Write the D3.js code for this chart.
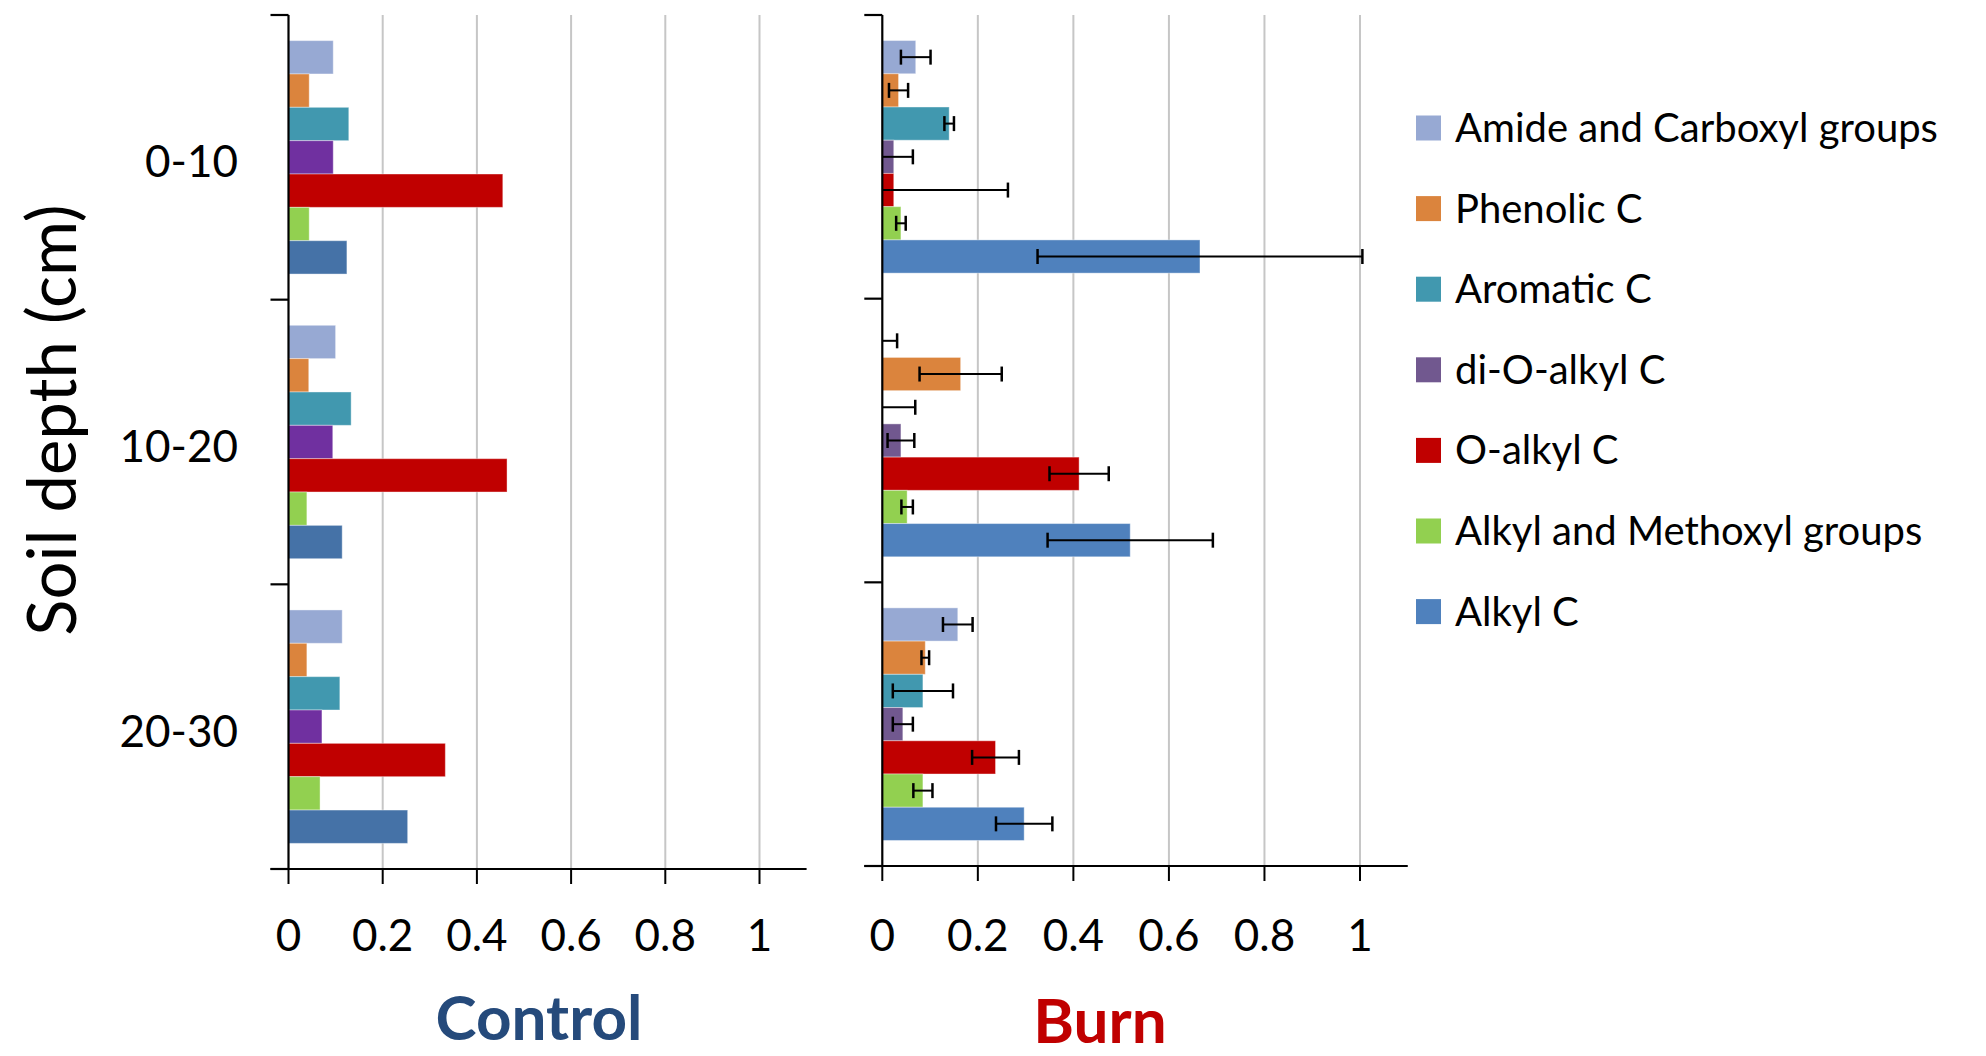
<!DOCTYPE html>
<html>
<head>
<meta charset="utf-8">
<script src="https://cdnjs.cloudflare.com/ajax/libs/d3/7.8.5/d3.min.js"></script>
<style>
  body { margin: 0; background: #fff; }
  svg text { font-family: Lato, "Open Sans", sans-serif; }
</style>
</head>
<body>
<div id="chart"></div>
<script>
var width = 1986, height = 1056;

// soil depth classes (top to bottom)
var depths = ["0-10", "10-20", "20-30"];

// carbon groups, drawn top to bottom inside each depth
var groups = ["Amide and Carboxyl groups", "Phenolic C", "Aromatic C", "di-O-alkyl C",
              "O-alkyl C", "Alkyl and Methoxyl groups", "Alkyl C"];

// control values, one row per depth, one entry per group
var controlValues = [
  [0.095, 0.044, 0.128, 0.095, 0.455, 0.044, 0.124],
  [0.100, 0.043, 0.133, 0.094, 0.464, 0.039, 0.114],
  [0.114, 0.039, 0.109, 0.071, 0.333, 0.067, 0.253]
];

// burn values and their error bars
var burnValues = [
  [0.070, 0.034, 0.140, 0.024, 0.024, 0.039, 0.665],
  [0.000, 0.164, 0.000, 0.039, 0.412, 0.052, 0.519],
  [0.158, 0.090, 0.085, 0.043, 0.237, 0.085, 0.297]
];
var burnErrors = [
  [0.031, 0.020, 0.010, 0.040, 0.239, 0.010, 0.340],
  [0.031, 0.086, 0.069, 0.028, 0.062, 0.012, 0.173],
  [0.031, 0.008, 0.063, 0.021, 0.049, 0.020, 0.059]
];

var xTicks = [0, 0.2, 0.4, 0.6, 0.8, 1];

// colours (control panel uses slightly different purple / blue)
var controlColors = ["#97a9d3", "#db843d", "#4198af", "#7030a0", "#c00000", "#92d050", "#4572a7"];
var burnColors    = ["#97a9d3", "#db843d", "#4198af", "#71588f", "#c00000", "#92d050", "#4f81bd"];

var svg = d3.select("#chart").append("svg")
    .attr("width", width)
    .attr("height", height);

//draw one panel
function panel(opt) {
  var x = d3.scaleLinear().domain([0, 1.1]).range([opt.left, opt.right]);
  var y = d3.scaleBand().domain(depths).range([opt.top, opt.bottom])
      .paddingInner(0.18).paddingOuter(0.09);
  var yBand = d3.scaleBand().domain(depths).range([opt.top, opt.bottom]);
  var sub = d3.scaleBand().domain(groups).range([0, y.bandwidth()]);

  var g = svg.append("g");

  //vertical grid lines
  g.selectAll(".grid").data(xTicks.slice(1)).enter().append("line")
    .attr("x1", d => x(d)).attr("x2", d => x(d))
    .attr("y1", opt.top).attr("y2", opt.bottom)
    .attr("stroke", "#c6c6c6").attr("stroke-width", 2);

  //bars
  depths.forEach(function(dep, i) {
    var rows = groups.map(function(gr, j) {
      return {grp: gr, j: j, v: opt.values[i][j], e: opt.errors ? opt.errors[i][j] : null};
    });
    var gg = g.append("g").attr("transform", "translate(0," + y(dep) + ")");
    gg.selectAll("rect").data(rows).enter().append("rect")
      .attr("x", x(0))
      .attr("y", d => sub(d.grp))
      .attr("width", d => x(d.v) - x(0))
      .attr("height", sub.bandwidth())
      .attr("fill", d => opt.colors[d.j])
      .attr("stroke", "rgba(255,255,255,0.4)")
      .attr("stroke-width", 1);

    if (opt.errors) {
      var cap = 7.5;
      rows.forEach(function(d) {
        var cy = sub(d.grp) + sub.bandwidth() / 2;
        var lo = Math.max(0, d.v - d.e), hi = d.v + d.e;
        gg.append("line").attr("x1", x(lo)).attr("x2", x(hi))
          .attr("y1", cy).attr("y2", cy)
          .attr("stroke", "#000").attr("stroke-width", 2);
        gg.append("line").attr("x1", x(hi)).attr("x2", x(hi))
          .attr("y1", cy - cap).attr("y2", cy + cap)
          .attr("stroke", "#000").attr("stroke-width", 2.5);
        if (d.v - d.e > 0) {
          gg.append("line").attr("x1", x(lo)).attr("x2", x(lo))
            .attr("y1", cy - cap).attr("y2", cy + cap)
            .attr("stroke", "#000").attr("stroke-width", 2.5);
        }
      });
    }
  });

  //y axis with outward ticks at the band edges
  var edges = depths.map(d => yBand(d)).concat([opt.bottom]);
  g.append("line").attr("x1", x(0)).attr("x2", x(0))
    .attr("y1", opt.top).attr("y2", opt.bottom)
    .attr("stroke", "#000").attr("stroke-width", 2.2);
  g.selectAll(".ytick").data(edges).enter().append("line")
    .attr("x1", x(0) - 18).attr("x2", x(0))
    .attr("y1", d => d).attr("y2", d => d)
    .attr("stroke", "#000").attr("stroke-width", 2.2);

  //x axis
  g.append("line").attr("x1", x(0) - 18).attr("x2", opt.right)
    .attr("y1", opt.bottom).attr("y2", opt.bottom)
    .attr("stroke", "#000").attr("stroke-width", 2.2);
  g.selectAll(".xtick").data(xTicks).enter().append("line")
    .attr("x1", d => x(d)).attr("x2", d => x(d))
    .attr("y1", opt.bottom).attr("y2", opt.bottom + 15)
    .attr("stroke", "#000").attr("stroke-width", 2);
  g.selectAll(".xlab").data(xTicks).enter().append("text")
    .attr("x", d => x(d)).attr("y", 951)
    .attr("text-anchor", "middle")
    .style("font-size", "44px").attr("fill", "#000")
    .text(d => d3.format("")(d));

  //panel title
  g.append("text")
    .attr("x", opt.titleX).attr("y", opt.titleY)
    .attr("text-anchor", "middle")
    .style("font-size", "62px").style("font-weight", "bold")
    .attr("fill", opt.titleColor)
    .text(opt.title);

  return {x: x, y: yBand};
}

var ctrl = panel({left: 288.5, right: 288.5 + 471 * 1.1, top: 15, bottom: 869,
  values: controlValues, colors: controlColors, errors: null,
  title: "Control", titleX: 539, titleY: 1040, titleColor: "#254a7b"});

panel({left: 882.3, right: 882.3 + 477.7 * 1.1, top: 15, bottom: 866,
  values: burnValues, colors: burnColors, errors: burnErrors,
  title: "Burn", titleX: 1100, titleY: 1043, titleColor: "#c00000"});

//depth labels
svg.selectAll(".dlab").data(depths).enter().append("text")
  .attr("x", 238)
  .attr("y", d => ctrl.y(d) + ctrl.y.bandwidth() / 2 + 20)
  .attr("text-anchor", "end")
  .style("font-size", "44px").attr("fill", "#000")
  .text(d => d);

//y title
svg.append("text")
  .attr("transform", "translate(76,420) rotate(-90)")
  .attr("text-anchor", "middle")
  .style("font-size", "67px").attr("fill", "#000")
  .text("Soil depth (cm)");

//legend
var legend = svg.append("g").attr("transform", "translate(1416,128)");
groups.forEach(function(gr, i) {
  legend.append("rect").attr("x", 0).attr("y", i * 80.6 - 12.5)
    .attr("width", 25).attr("height", 25).attr("fill", burnColors[i]);
  legend.append("text").attr("x", 39).attr("y", i * 80.6 + 14)
    .style("font-size", "40px").attr("fill", "#000")
    .text(gr);
});
</script>
</body>
</html>
